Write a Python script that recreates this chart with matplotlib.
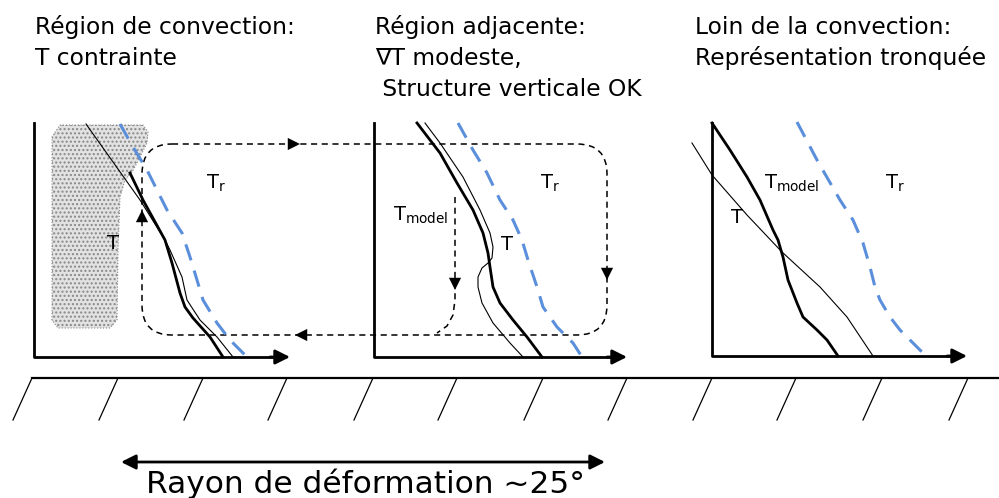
import matplotlib.pyplot as plt
from matplotlib.patches import FancyBboxPatch, Polygon

# schematic drawn in pixel coordinates of the 999x498 picture (y downwards)

# panel frames: (x of y-axis, top of y-axis, y of x-axis, tip of x-axis)
panels = [(34, 123, 357, 290), (374, 123, 357, 627), (712, 123, 356, 967)]

# panel 1 : convection region
p1_T_x = [86, 140, 165, 170, 182, 187, 200, 217, 233]
p1_T_y = [124, 200, 240, 250, 277, 300, 320, 337, 357]
p1_model_x = [130, 143, 165, 172, 180, 185, 193, 210, 223]
p1_model_y = [173, 200, 240, 263, 293, 307, 318, 337, 357]
p1_Tr_x = [120, 133, 147, 167, 182, 190, 197, 203, 217, 230, 247]
p1_Tr_y = [124, 147, 170, 210, 233, 257, 280, 300, 323, 340, 357]
shade_x = [60, 143, 148, 147, 137, 132, 125, 120, 118, 117, 110, 58, 52, 52]
shade_y = [125, 125, 132, 143, 163, 172, 180, 197, 250, 320, 328, 328, 320, 137]

# panel 2 : adjacent region
p2_T_x = [425, 440, 463, 480, 490, 493, 492, 488, 482, 478, 478, 482, 493, 510, 523]
p2_T_y = [123, 143, 177, 210, 233, 247, 258, 263, 268, 277, 287, 303, 323, 343, 357]
p2_model_x = [417, 440, 457, 473, 483, 488, 490, 493, 500, 513, 527, 542]
p2_model_y = [123, 153, 183, 210, 233, 253, 267, 287, 303, 320, 337, 357]
p2_Tr_x = [458, 473, 487, 500, 513, 522, 528, 537, 543, 557, 573, 582]
p2_Tr_y = [123, 150, 173, 200, 220, 240, 260, 287, 307, 327, 343, 357]

# panel 3 : far from convection
p3_T_x = [692, 712, 747, 782, 820, 847, 873]
p3_T_y = [143, 175, 215, 252, 287, 317, 356]
p3_model_x = [712, 730, 747, 760, 773, 778, 783, 788, 797, 803, 817, 827, 838]
p3_model_y = [123, 150, 177, 200, 230, 240, 257, 280, 303, 317, 330, 340, 356]
p3_Tr_x = [797, 817, 840, 853, 863, 870, 875, 880, 890, 900, 913, 923]
p3_Tr_y = [122, 160, 200, 220, 243, 267, 287, 300, 317, 330, 343, 353]

# circulation loop (left, top, right, bottom)
loop = (142, 144, 607, 335)
inner_x = [455, 455, 453, 447, 437]
inner_y = [197, 300, 315, 326, 333]

# ground
ground_y = 378
hatch_x = [32, 118, 203, 287, 373, 457, 543, 627, 712, 796, 882, 968]

titles = [
    (35, ["Région de convection:", "T contrainte"]),
    (375, ["Région adjacente:", "∇T modeste,", " Structure verticale OK"]),
    (695, ["Loin de la convection:", "Représentation tronquée"]),
]

blue = '#5b8fdc'
plt.rcParams['mathtext.default'] = 'regular'

fig = plt.figure(figsize=(9.99, 4.98), dpi=100)
ax = fig.add_axes([0, 0, 1, 1])
ax.set_xlim(0, 999)
ax.set_ylim(498, 0)
ax.axis('off')


def arrow(x0, y0, x1, y1, lw=2, scale=22, ls='-'):
    ax.annotate('', xy=(x1, y1), xytext=(x0, y0),
                arrowprops=dict(arrowstyle='-|>', mutation_scale=scale, lw=lw,
                                color='k', linestyle=ls, shrinkA=0, shrinkB=0))


# shaded region
ax.add_patch(Polygon(list(zip(shade_x, shade_y)), closed=True, facecolor='#e2e2e2',
                     edgecolor='#888888', lw=0.8, linestyle=':', hatch='....', zorder=1))

# dashed loop
l, t, r, b = loop
ax.add_patch(FancyBboxPatch((l, t), r - l, b - t, boxstyle='round,pad=0,rounding_size=30',
                            fill=False, lw=1.1, linestyle=(0, (4, 3)), edgecolor='k', zorder=2))
ax.plot(inner_x, inner_y, color='k', lw=1.1, linestyle=(0, (4, 3)), zorder=2)
arrow(270, t, 300, t, lw=0, scale=22)
arrow(325, b, 295, b, lw=0, scale=22)
arrow(l, 240, l, 210, lw=0, scale=22)
arrow(r, 250, r, 280, lw=0, scale=22)
arrow(455, 260, 455, 290, lw=0, scale=22)

# axes of each panel
for x0, ytop, ybot, xtip in panels:
    ax.plot([x0, x0, xtip - 10], [ytop, ybot, ybot], color='k', lw=2, zorder=3)
    arrow(xtip - 20, ybot, xtip, ybot, lw=2, scale=22)

# profiles
for tx, ty, mx, my, rx, ry in [(p1_T_x, p1_T_y, p1_model_x, p1_model_y, p1_Tr_x, p1_Tr_y),
                               (p2_T_x, p2_T_y, p2_model_x, p2_model_y, p2_Tr_x, p2_Tr_y),
                               (p3_T_x, p3_T_y, p3_model_x, p3_model_y, p3_Tr_x, p3_Tr_y)]:
    ax.plot(tx, ty, color='k', lw=0.8, zorder=4)
    ax.plot(mx, my, color='k', lw=2, zorder=4)
    ax.plot(rx, ry, color=blue, lw=2.2, linestyle=(0, (5.5, 3.5)), zorder=4)

# curve labels
lab = dict(fontsize=14, color='k', va='center', zorder=5)
ax.text(113, 243, 'T', ha='center', **lab)
ax.text(216, 183, 'T$_r$', ha='center', **lab)
ax.text(393, 215, 'T$_{model}$', ha='left', **lab)
ax.text(507, 244, 'T', ha='center', **lab)
ax.text(550, 183, 'T$_r$', ha='center', **lab)
ax.text(764, 183, 'T$_{model}$', ha='left', **lab)
ax.text(737, 217, 'T', ha='center', **lab)
ax.text(895, 183, 'T$_r$', ha='center', **lab)

# titles
for x0, lines in titles:
    for i, s in enumerate(lines):
        ax.text(x0, 27 + 31 * i, s, fontsize=16.8, ha='left', va='center')

# ground and hatching
ax.plot([hatch_x[0], 999], [ground_y, ground_y], color='k', lw=1.6)
for hx in hatch_x:
    ax.plot([hx, hx - 19], [ground_y, ground_y + 42], color='k', lw=0.9)

# deformation radius
ax.annotate('', xy=(605, 462), xytext=(121, 462),
            arrowprops=dict(arrowstyle='<|-|>', mutation_scale=22, lw=2, color='k',
                            shrinkA=0, shrinkB=0))
ax.text(366, 484, 'Rayon de déformation ~25°', fontsize=22.5, ha='center', va='center')

fig.savefig('out.png', dpi=100)
